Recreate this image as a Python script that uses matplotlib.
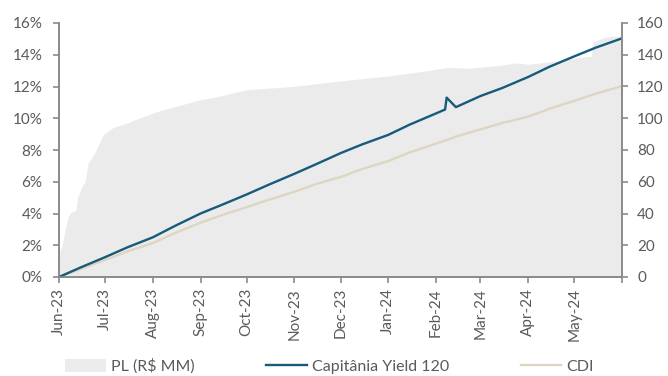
import numpy as np
import pandas as pd
import matplotlib
matplotlib.use("Agg")
import matplotlib.pyplot as plt
from matplotlib.patches import Patch
from matplotlib.lines import Line2D

plt.rcParams['font.family'] = ['Lato', 'DejaVu Sans']

# cumulative return (%) of the fund and of CDI
ret_dates = ['2023-06-01', '2023-06-15', '2023-07-01', '2023-07-15', '2023-08-01',
             '2023-08-15', '2023-09-01', '2023-09-15', '2023-10-01', '2023-10-15',
             '2023-11-01', '2023-11-15', '2023-12-01', '2023-12-15', '2024-01-01',
             '2024-01-15', '2024-02-01', '2024-02-07', '2024-02-08', '2024-02-14',
             '2024-03-01', '2024-03-15', '2024-04-01', '2024-04-15', '2024-05-01',
             '2024-05-15', '2024-05-31']
yield120 = [0.0, 0.6, 1.25, 1.85, 2.5, 3.2, 4.0, 4.55, 5.2, 5.8, 6.5, 7.1, 7.8, 8.35,
            8.95, 9.6, 10.3, 10.55, 11.3, 10.7, 11.4, 11.9, 12.6, 13.25, 13.9, 14.45,
            15.0]
cdi = [0.0, 0.5, 1.07, 1.6, 2.14, 2.75, 3.42, 3.9, 4.4, 4.85, 5.37, 5.85, 6.3, 6.8,
       7.3, 7.85, 8.4, 8.6, 8.62, 8.85, 9.3, 9.7, 10.1, 10.6, 11.1, 11.55, 12.0]

# fund net assets, R$ MM
pl_dates = ['2023-06-01', '2023-06-03', '2023-06-05', '2023-06-07', '2023-06-09',
            '2023-06-12', '2023-06-13', '2023-06-16', '2023-06-18', '2023-06-20',
            '2023-06-23', '2023-06-27', '2023-06-30', '2023-07-06', '2023-07-15',
            '2023-07-23', '2023-08-03', '2023-08-18', '2023-08-31', '2023-09-11',
            '2023-10-01', '2023-10-31', '2023-12-01', '2023-12-16', '2024-01-01',
            '2024-01-27', '2024-02-08', '2024-02-22', '2024-03-11', '2024-03-24',
            '2024-04-01', '2024-04-20', '2024-05-06', '2024-05-12', '2024-05-13',
            '2024-05-21', '2024-05-31']
pl = [15, 20, 30, 38, 41, 42, 50, 57, 60, 72, 76, 84, 90, 94, 97, 100, 104, 108,
      111.5, 113.4, 118, 120, 123.5, 125, 126.6, 130, 132, 131.5, 133, 134.8, 134,
      136, 138.6, 139, 148, 151, 152]

month_ticks = pd.date_range('2023-06-01', '2024-06-01', freq='MS')

blue = '#175a7c'
beige = '#ddd6c1'
fill_grey = '#ebebeb'
axis_grey = '#8a8a8a'
text_grey = '#5a5a5a'

fig = plt.figure(figsize=(6.68, 3.76), dpi=100)
ax = fig.add_axes([59 / 668, 1 - 277 / 376, (622 - 59) / 668, (277 - 23) / 376])
ax2 = ax.twinx()

ax2.fill_between(pd.to_datetime(pl_dates), pl, 0, color=fill_grey, linewidth=0)
ax.plot(pd.to_datetime(ret_dates), cdi, color=beige, lw=1.7)
ax.plot(pd.to_datetime(ret_dates), yield120, color=blue, lw=1.7)

# keep the lines above the area on the twin axis
ax.set_zorder(ax2.get_zorder() + 1)
ax.patch.set_visible(False)

ax.set_xlim(month_ticks[0], month_ticks[-1])
ax.set_ylim(0, 16)
ax2.set_ylim(0, 160)
ax.set_yticks(np.arange(0, 17, 2))
ax.set_yticklabels([f'{v}%' for v in range(0, 17, 2)])
ax2.set_yticks(np.arange(0, 161, 20))

ax.set_xticks(month_ticks)
ax.set_xticklabels([d.strftime('%b-%y') for d in month_ticks[:-1]] + [''], rotation=90)

for a in (ax, ax2):
    a.spines['top'].set_visible(False)
    for s in ('left', 'right', 'bottom'):
        a.spines[s].set_color(axis_grey)
        a.spines[s].set_linewidth(1.2)
    a.tick_params(colors=axis_grey, labelcolor=text_grey, labelsize=11, length=4, width=1.2)
ax.tick_params(axis='y', pad=8)
ax.tick_params(axis='x', pad=4)
ax2.tick_params(axis='y', pad=7)

handles = [Patch(facecolor=fill_grey, edgecolor='none'),
           Line2D([], [], color=blue, lw=1.7),
           Line2D([], [], color=beige, lw=1.7)]
labels = ['PL (R$ MM)', 'Capitânia Yield 120', 'CDI']
leg = fig.legend(handles, labels, loc='center left', bbox_to_anchor=(65 / 668, 1 - 366 / 376),
                 ncol=3, frameon=False, fontsize=11.5, handlelength=2.55, handleheight=0.9,
                 handletextpad=0.3, columnspacing=4.5, borderpad=0, borderaxespad=0)
for t in leg.get_texts():
    t.set_color(text_grey)

fig.savefig('out.png', dpi=100)
